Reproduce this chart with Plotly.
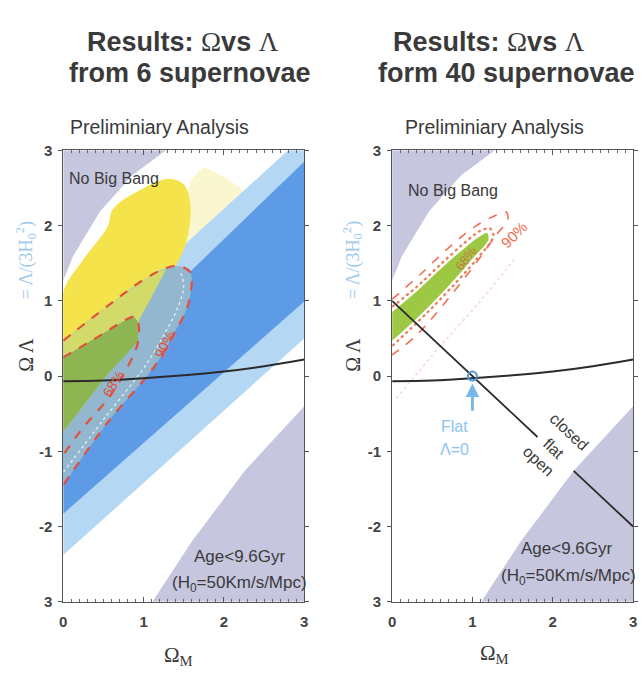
import plotly.graph_objects as go

# ---------------- data ----------------
X_TICKS = ["0", "1", "2", "3"]
Y_TICKVALS = [-3, -2, -1, 0, 1, 2, 3]
Y_TICKTEXT = ["3", "-2", "-1", "0", "1", "2", "3"]

# shared boundaries (both panels)
NBB_OM = [0, 0.12, 0.46, 0.86, 1.28, 0]
NBB_OL = [1.27, 1.59, 2.19, 2.67, 3.0, 3.0]
AGE_OM = [1.11, 1.6, 2.26, 3.0, 3.0]
AGE_OL = [-3.0, -2.2, -1.26, -0.4, -3.0]
EXP_OM = [0, 0.5, 1.0, 1.5, 2.0, 2.5, 3.0]
EXP_OL = [-0.07, -0.06, -0.03, 0.01, 0.06, 0.13, 0.22]

# left panel (6 supernovae)
L_CREAM_OM = [1.4, 1.5, 1.6, 1.75, 2.0, 2.25]
L_CREAM_OL = [1.62, 2.3, 2.62, 2.78, 2.65, 2.47]
L_LB_OM = [0, 2.80, 3, 3, 0]
L_LB_OL = [0.28, 3, 3, 0.5, -2.38]
L_MB_OM = [0, 3, 3, 0]
L_MB_OL = [-0.24, 2.85, 0.99, -1.83]
L_YEL_OM = [0, 0, 0.25, 0.55, 0.62, 0.95, 1.3, 1.5, 1.58, 1.57, 1.5, 1.35, 1.29, 1.0, 0.55, 0]
L_YEL_OL = [0.47, 1.12, 1.55, 1.98, 2.22, 2.47, 2.62, 2.55, 2.3, 1.98, 1.68, 1.42, 1.44, 1.28, 0.93, 0.47]
L_C90_OM = [0, 0.55, 1.0, 1.29, 1.45, 1.58, 1.6, 1.54, 1.37, 1.13, 0.55, 0]
L_C90_OL = [0.47, 0.93, 1.28, 1.44, 1.46, 1.38, 1.24, 0.9, 0.55, 0.12, -0.62, -1.45]
L_C68_OM = [0, 0.4, 0.75, 0.88, 0.93, 0.93, 0.76, 0.55, 0.25, 0]
L_C68_OL = [0.25, 0.5, 0.73, 0.79, 0.72, 0.45, 0.04, -0.31, -0.68, -1.05]
L_YG_OM = [0, 0.55, 1.0, 1.29, 1.1, 0.94, 0.92, 0.55, 0]
L_YG_OL = [0.47, 0.93, 1.28, 1.44, 1.05, 0.74, 0.46, 0.02, -0.74]
L_GRN_OM = [0, 0.4, 0.75, 0.88, 0.93, 0.93, 0.55, 0]
L_GRN_OL = [0.25, 0.5, 0.73, 0.79, 0.72, 0.46, 0.02, -0.74]
L_WD_OM = [0, 0.5, 1.03, 1.27, 1.43, 1.5, 1.46]
L_WD_OL = [-1.28, -0.58, 0.15, 0.58, 0.92, 1.2, 1.38]

# right panel (40 supernovae)
R_GRN_OM = [0, 0.3, 0.6, 0.9, 1.1, 1.18, 1.2, 1.0, 0.6, 0.3, 0]
R_GRN_OL = [0.85, 1.12, 1.42, 1.7, 1.86, 1.9, 1.82, 1.56, 1.08, 0.76, 0.47]
R_C68_OM = [0, 0.3, 0.6, 0.9, 1.1, 1.22, 1.26, 1.05, 0.6, 0.3, 0]
R_C68_OL = [0.92, 1.18, 1.48, 1.77, 1.93, 1.96, 1.86, 1.55, 1.02, 0.7, 0.4]
R_C90_OM = [0, 0.35, 0.72, 1.05, 1.3, 1.42, 1.44, 1.3, 0.9, 0.31, 0]
R_C90_OL = [1.02, 1.35, 1.72, 2.0, 2.14, 2.18, 2.08, 1.88, 1.3, 0.55, 0.28]
R_FAINT_OM = [0.05, 0.6, 1.1, 1.52]
R_FAINT_OL = [-0.3, 0.4, 1.0, 1.55]
FLAT1_OM = [0, 1.81]
FLAT1_OL = [1.0, -0.81]
FLAT2_OM = [2.26, 3.0]
FLAT2_OL = [-1.26, -2.0]
FLAT_PT_OM = [1.0]
FLAT_PT_OL = [0.0]

# ---------------- styles ----------------
LAV = "#c6c6df"
LBLUE = "#b4d7f3"
MBLUE = "#5d9be6"
CREAM = "#faf6cf"
YEL = "#f4e34a"
YG = "#d2da6a"
TEAL = "#93b7cf"
GRN = "#8db552"
RED = "#e0503c"
SANS = "Liberation Sans, Arial, sans-serif"
SERIF = "Liberation Serif, Times New Roman, serif"
TXT = "#3a3a3a"

fig = go.Figure()


def poly(xs, ys, color, xa="x", ya="y", shape="linear"):
    fig.add_trace(go.Scatter(x=xs, y=ys, fill="toself", fillcolor=color, mode="lines",
                             line=dict(width=0, color=color, shape=shape), xaxis=xa, yaxis=ya,
                             hoverinfo="skip", showlegend=False))


def line(xs, ys, color, width=2, dash="solid", xa="x", ya="y", shape="spline"):
    fig.add_trace(go.Scatter(x=xs, y=ys, mode="lines",
                             line=dict(width=width, color=color, dash=dash, shape=shape),
                             xaxis=xa, yaxis=ya, hoverinfo="skip", showlegend=False))


# ---- left panel ----
poly(NBB_OM, NBB_OL, LAV)
poly(AGE_OM, AGE_OL, LAV)
poly(L_CREAM_OM, L_CREAM_OL, CREAM)
poly(L_LB_OM, L_LB_OL, LBLUE)
poly(L_MB_OM, L_MB_OL, MBLUE)
poly(L_YEL_OM, L_YEL_OL, YEL, shape="spline")
poly(L_C90_OM, L_C90_OL, TEAL, shape="spline")
poly(L_YG_OM, L_YG_OL, YG)
poly(L_GRN_OM, L_GRN_OL, GRN)
line(L_WD_OM, L_WD_OL, "#e6f4ff", width=1.2, dash="dot")
line(L_C90_OM, L_C90_OL, RED, width=2.2, dash="dash")
line(L_C68_OM, L_C68_OL, RED, width=2.2, dash="dash")
line(EXP_OM, EXP_OL, "#2b2b2b", width=2)

# ---- right panel ----
poly(NBB_OM, NBB_OL, LAV, "x2", "y2")
poly(AGE_OM, AGE_OL, LAV, "x2", "y2")
line(R_FAINT_OM, R_FAINT_OL, "rgba(240,140,140,0.35)", width=1.5, dash="dot", xa="x2", ya="y2")
line(R_C90_OM, R_C90_OL, "#f07058", width=1.6, dash="dash", xa="x2", ya="y2")
poly(R_GRN_OM, R_GRN_OL, "#9cc843", "x2", "y2", shape="spline")
line(R_C68_OM, R_C68_OL, "#ee7a52", width=2.2, dash="dot", xa="x2", ya="y2")
line(EXP_OM, EXP_OL, "#2b2b2b", width=2, xa="x2", ya="y2")
line(FLAT1_OM, FLAT1_OL, "#2b2b2b", width=1.8, xa="x2", ya="y2", shape="linear")
line(FLAT2_OM, FLAT2_OL, "#2b2b2b", width=1.8, xa="x2", ya="y2", shape="linear")
fig.add_trace(go.Scatter(x=FLAT_PT_OM, y=FLAT_PT_OL, mode="markers", xaxis="x2", yaxis="y2",
                         marker=dict(symbol="circle-open", size=9, color="#4f9ad6", line=dict(width=2)),
                         hoverinfo="skip", showlegend=False))

# ---------------- axes ----------------
W, H = 644, 678
xd1 = [60 / W, 304 / W]
xd2 = [393 / W, 637 / W]
yd = [1 - 608 / H, 1 - 145 / H]

xax = dict(range=[0, 3], showgrid=False, zeroline=False, showline=True, linecolor="#555",
           linewidth=1, mirror="ticks", ticks="inside", ticklen=5, tickcolor="#555",
           tickmode="array", tickvals=[0, 1, 2, 3], ticktext=X_TICKS, ticklabelstandoff=6,
           tickfont=dict(family=SANS, size=15, color="#444", weight="bold"),
           minor=dict(tickmode="linear", tick0=0, dtick=0.1, ticks="inside", ticklen=3, tickcolor="#666"),
           fixedrange=True)
yax = dict(range=[-3, 3], showgrid=False, zeroline=False, showline=True, linecolor="#555",
           linewidth=1, mirror="ticks", ticks="outside", ticklen=4, tickcolor="#555",
           tickmode="array", tickvals=Y_TICKVALS, ticktext=Y_TICKTEXT, ticklabelstandoff=3,
           tickfont=dict(family=SANS, size=15, color="#444", weight="bold"), fixedrange=True)

fig.update_layout(
    width=W, height=H, autosize=False, margin=dict(l=0, r=0, t=0, b=0),
    paper_bgcolor="white", plot_bgcolor="white", showlegend=False,
    xaxis=dict(xax, domain=xd1, anchor="y"),
    yaxis=dict(yax, domain=yd, anchor="x"),
    xaxis2=dict(xax, domain=xd2, anchor="y2"),
    yaxis2=dict(yax, domain=yd, anchor="x2"),
)

ann = []


def pa(text, x, y, size, color=TXT, family=SANS, angle=0, xanchor="center"):
    ann.append(dict(text=text, x=x, y=y, xref="paper", yref="paper", showarrow=False,
                    font=dict(family=family, size=size, color=color), textangle=angle,
                    xanchor=xanchor, yanchor="middle"))


def da(text, x, y, size, xr="x", yr="y", color=TXT, family=SANS, angle=0):
    ann.append(dict(text=text, x=x, y=y, xref=xr, yref=yr, showarrow=False,
                    font=dict(family=family, size=size, color=color), textangle=angle,
                    xanchor="center", yanchor="middle"))


SYM = "<span style='font-family:Liberation Serif;font-weight:normal'>{}</span>"
title1 = "<b>Results: </b>" + SYM.format("Ω") + "<b>vs </b>" + SYM.format("Λ")
pa(title1, 181 / W, 1 - 34 / H, 27)
pa("<b>from 6 supernovae</b>", 188 / W, 1 - 66 / H, 27)
pa(title1, 491 / W, 1 - 34 / H, 27)
pa("<b>form 40 supernovae</b>", 509 / W, 1 - 66 / H, 27)
pa("Preliminiary Analysis", 157 / W, 1 - 121 / H, 19.5)
pa("Preliminiary Analysis", 497 / W, 1 - 121 / H, 19.5)

for xc in (22 / W, 353 / W):
    pa("Ω Λ", xc, 1 - 355 / H, 20, family=SERIF, angle=-90)
    pa("= Λ/(3H<sub>0</sub><sup>2</sup>)", xc, 1 - 258 / H, 18, color="#9cc9ec", family=SERIF, angle=-90)

pa("Ω<sub>M</sub>", 177 / W, 1 - 664 / H, 21, family=SERIF)
pa("Ω<sub>M</sub>", 497 / W, 1 - 662 / H, 21, family=SERIF)

# in-plot texts, left
da("No Big Bang", 0.63, 2.63, 16)
da("Age&lt;9.6Gyr", 2.2, -2.4, 17)
da("(H<sub>0</sub>=50Km/s/Mpc)", 2.19, -2.77, 17)
da("68%", 0.62, -0.1, 14, color=RED, angle=-58)
da("90%", 1.27, 0.42, 14, color=RED, angle=-62)

# in-plot texts, right
da("No Big Bang", 0.76, 2.47, 16, "x2", "y2")
da("Age&lt;9.6Gyr", 2.18, -2.29, 17, "x2", "y2")
da("(H<sub>0</sub>=50Km/s/Mpc)", 2.2, -2.67, 17, "x2", "y2")
da("68%", 0.92, 1.56, 13, "x2", "y2", color="#c8783c", angle=-52)
da("90%", 1.52, 1.88, 15, "x2", "y2", color="#f06a50", angle=-45)
da("closed", 2.2, -0.74, 16, "x2", "y2", angle=43)
da("flat", 2.01, -0.96, 16, "x2", "y2", angle=43)
da("open", 1.83, -1.13, 16, "x2", "y2", angle=43)
da("Flat", 0.78, -0.67, 16, "x2", "y2", color="#8cc4ee")
da("Λ=0", 0.78, -0.98, 16, "x2", "y2", color="#8cc4ee")
ann.append(dict(x=1.0, y=-0.1, ax=1.0, ay=-0.48, xref="x2", yref="y2", axref="x2", ayref="y2",
                text="", showarrow=True, arrowhead=2, arrowsize=0.9, arrowwidth=3,
                arrowcolor="#78b8e6"))

fig.update_layout(annotations=ann)
fig.write_html("out.html")
